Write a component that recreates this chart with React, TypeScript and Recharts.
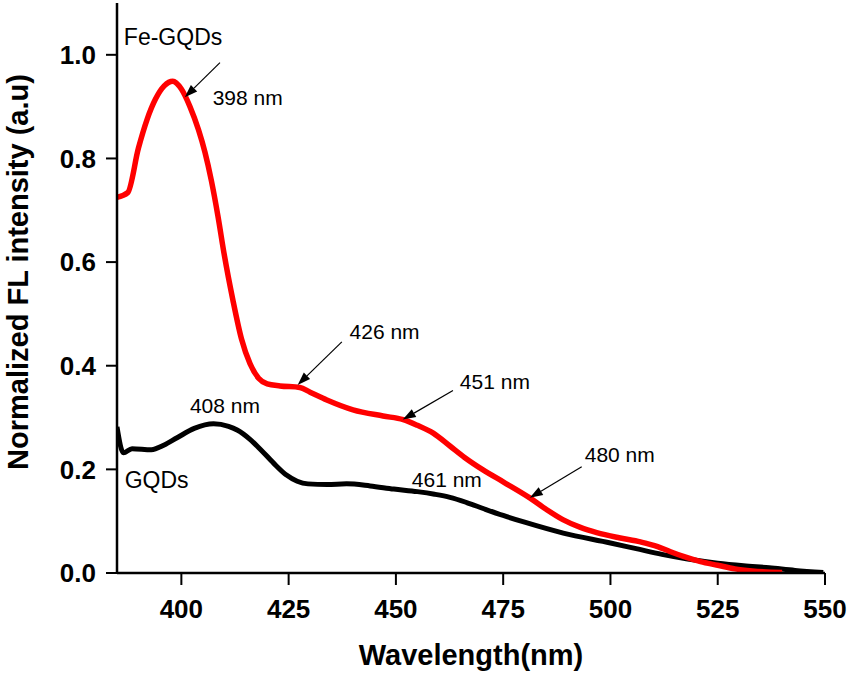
import React from 'react';
import { LineChart, Line, XAxis, YAxis, ReferenceLine, ReferenceDot, Customized } from 'recharts';

const FONT = 'Arial, "Liberation Sans", Helvetica, sans-serif';

// Fe-GQDs emission (red)
const feWavelength = [
  385, 387.5, 390, 392, 394, 396, 398, 400, 402, 404, 405.5, 407, 408.5, 410, 412, 414, 416, 418, 420,
  423, 427.6, 430, 433.9, 440, 447, 451.7, 455, 458.7, 462.6, 466, 470.3, 475, 481.2, 485, 488.9,
  493, 496.8, 502, 507, 511, 514, 517, 521, 525, 529, 533, 540,
];
const feIntensity = [
  0.725, 0.734, 0.82, 0.875, 0.915, 0.94, 0.949, 0.934, 0.9, 0.855, 0.812, 0.757, 0.69, 0.614, 0.527,
  0.452, 0.404, 0.376, 0.365, 0.361, 0.358, 0.349, 0.334, 0.315, 0.303, 0.296, 0.285, 0.27, 0.245,
  0.223, 0.199, 0.176, 0.145, 0.123, 0.103, 0.088, 0.078, 0.068, 0.06, 0.051, 0.041, 0.032, 0.022,
  0.015, 0.008, 0.004, 0.001,
];

// GQDs emission (black)
const gqdWavelength = [
  385, 386.5, 388.5, 393, 396, 399, 403, 407.5, 411, 413, 416, 418.5, 421.5, 424.5, 427, 429.5, 434,
  438.5, 444, 449.5, 455, 459, 462.6, 466.5, 470.5, 475, 480, 489, 500, 506, 512, 518, 525, 531,
  537, 543, 549.6,
];
const gqdIntensity = [
  0.282, 0.232, 0.24, 0.238, 0.247, 0.261, 0.279, 0.288, 0.283, 0.276, 0.258, 0.238, 0.212, 0.189,
  0.177, 0.172, 0.171, 0.172, 0.168, 0.162, 0.157, 0.152, 0.146, 0.136, 0.124, 0.111, 0.098, 0.077,
  0.058, 0.047, 0.036, 0.027, 0.019, 0.014, 0.01, 0.005, 0.001,
];

const xTicks = [400, 425, 450, 475, 500, 525, 550];
const yTicks = [0, 0.2, 0.4, 0.6, 0.8, 1.0];

const seriesNames = [
  { text: 'Fe-GQDs', wl: 386.6, val: 1.034 },
  { text: 'GQDs', wl: 386.8, val: 0.18 },
];

const peakNames = [
  { text: '398 nm', wl: 407.3, val: 0.918 },
  { text: '426 nm', wl: 439.2, val: 0.466 },
  { text: '451 nm', wl: 464.9, val: 0.369 },
  { text: '408 nm', wl: 402, val: 0.323 },
  { text: '461 nm', wl: 453.7, val: 0.18 },
  { text: '480 nm', wl: 494, val: 0.228 },
];

// arrows: tail -> head, in data units
const peakArrows = [
  { fromWl: 409.0, fromVal: 0.985, toWl: 400.8, toVal: 0.918 },
  { fromWl: 437.4, fromVal: 0.446, toWl: 427.1, toVal: 0.363 },
  { fromWl: 463.3, fromVal: 0.352, toWl: 451.6, toVal: 0.296 },
  { fromWl: 493.3, fromVal: 0.205, toWl: 481.2, toVal: 0.145 },
];

const feData = feWavelength.map((wl, i) => ({ wl, v: feIntensity[i] }));
const gqdData = gqdWavelength.map((wl, i) => ({ wl, v: gqdIntensity[i] }));

const textShape = (text: string, size: number) => (props: any) => (
  <text x={props.cx} y={props.cy} fontSize={size} fontFamily={FONT} fill="#000" dominantBaseline="central">
    {text}
  </text>
);

const Arrow = (props: any) => {
  const { x1, y1, x2, y2 } = props;
  const ang = Math.atan2(y2 - y1, x2 - x1);
  const len = 13;
  const hw = 4.5;
  const bx = x2 - len * Math.cos(ang);
  const by = y2 - len * Math.sin(ang);
  const px = -Math.sin(ang) * hw;
  const py = Math.cos(ang) * hw;
  return (
    <g>
      <line x1={x1} y1={y1} x2={bx} y2={by} stroke="#000" strokeWidth={1.2} />
      <polygon points={`${x2},${y2} ${bx + px},${by + py} ${bx - px},${by - py}`} fill="#000" />
    </g>
  );
};

const AxisTitles = () => (
  <g fontFamily={FONT} fontWeight="bold" fill="#000">
    <text x={471} y={665} fontSize={29} textAnchor="middle">
      Wavelength(nm)
    </text>
    <text x={28} y={272} fontSize={29} textAnchor="middle" transform="rotate(-90 28 272)">
      Normalized FL intensity (a.u)
    </text>
  </g>
);

const tickStyle = { fontSize: 26, fontWeight: 'bold', fontFamily: FONT, fill: '#000' };

export default function App() {
  return (
    <div style={{ position: 'absolute', left: 0, top: 0, background: '#fff' }}>
      <LineChart width={851} height={675} margin={{ top: 3, right: 26, bottom: 0, left: 0 }}>
        <XAxis
          type="number"
          dataKey="wl"
          domain={[385, 550]}
          ticks={xTicks}
          allowDataOverflow
          height={102}
          stroke="#000"
          strokeWidth={2.5}
          tickSize={12}
          tickMargin={15}
          tick={tickStyle}
          tickLine={{ stroke: '#000', strokeWidth: 2 }}
        />
        <YAxis
          type="number"
          dataKey="v"
          domain={[0, 1.1]}
          ticks={yTicks}
          allowDataOverflow
          width={117}
          stroke="#000"
          strokeWidth={2.5}
          tickSize={11}
          tickMargin={10}
          tick={tickStyle}
          tickLine={{ stroke: '#000', strokeWidth: 2 }}
          tickFormatter={(v: number) => v.toFixed(1)}
        />
        <Line
          data={gqdData}
          dataKey="v"
          type="monotone"
          stroke="#000"
          strokeWidth={5}
          dot={false}
          isAnimationActive={false}
        />
        <Line
          data={feData}
          dataKey="v"
          type="monotone"
          stroke="#ff0000"
          strokeWidth={5.5}
          dot={false}
          isAnimationActive={false}
        />
        {peakArrows.map((a, i) => (
          <ReferenceLine
            key={`arrow-${i}`}
            segment={[
              { x: a.fromWl, y: a.fromVal },
              { x: a.toWl, y: a.toVal },
            ]}
            ifOverflow="visible"
            shape={Arrow}
          />
        ))}
        {seriesNames.map((s) => (
          <ReferenceDot key={s.text} x={s.wl} y={s.val} ifOverflow="visible" shape={textShape(s.text, 23)} />
        ))}
        {peakNames.map((p) => (
          <ReferenceDot key={p.text} x={p.wl} y={p.val} ifOverflow="visible" shape={textShape(p.text, 21)} />
        ))}
        <Customized component={AxisTitles} />
      </LineChart>
    </div>
  );
}
